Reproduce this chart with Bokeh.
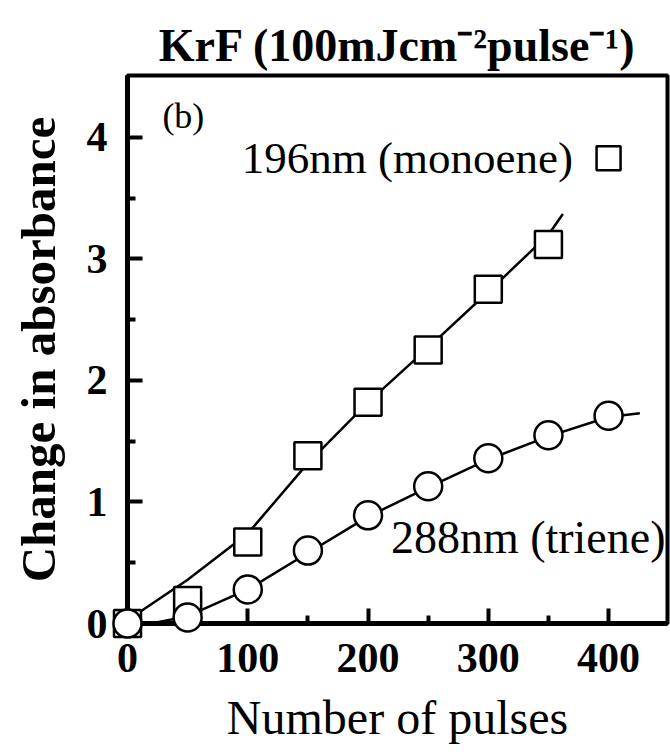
from bokeh.plotting import figure
from bokeh.models import FixedTicker, Range1d
from bokeh.embed import file_html
from bokeh.resources import INLINE
from bokeh.core.properties import value

# Data
pulses_mono = [0, 50, 100, 150, 200, 250, 300, 350]
abs_mono = [0.0, 0.19, 0.67, 1.38, 1.82, 2.25, 2.75, 3.12]
pulses_tri = [0, 50, 100, 150, 200, 250, 300, 350, 400]
abs_tri = [0.0, 0.05, 0.28, 0.60, 0.89, 1.13, 1.36, 1.55, 1.71]

# Drawn guide curves
fit_mono_x = [8, 50, 100, 150, 200, 250, 300, 350, 362]
fit_mono_y = [0.08, 0.36, 0.74, 1.32, 1.82, 2.27, 2.73, 3.2, 3.37]
fit_tri_x = [20, 50, 100, 150, 200, 250, 300, 350, 400, 426]
fit_tri_y = [0.0, 0.06, 0.28, 0.58, 0.88, 1.12, 1.35, 1.54, 1.70, 1.73]

x_ticks = [0, 100, 200, 300, 400]
x_minor = [50, 150, 250, 350]
y_ticks = [0, 1, 2, 3, 4]
y_minor = [0.5, 1.5, 2.5, 3.5]

FONT = "Liberation Serif"

p = figure(width=670, height=755, x_range=Range1d(0, 449), y_range=Range1d(0, 4.51),
           output_backend="svg", toolbar_location=None,
           min_border_left=127, min_border_right=3, min_border_top=75, min_border_bottom=132,
           title="KrF (100mJcm\u207b\u00b2pulse\u207b\u00b9)")
p.title.text_font = FONT
p.title.text_font_size = "46px"
p.title.text_font_style = "bold"
p.title.align = "center"
p.title.text_color = "black"
p.title.offset = 0
p.title.standoff = 10

p.grid.visible = False
p.outline_line_color = "black"
p.outline_line_width = 4
p.outline_line_alpha = 1.0

for ax in (p.xaxis[0], p.yaxis[0]):
    ax.axis_line_width = 5
    ax.axis_line_color = "black"
    ax.major_tick_in = 15
    ax.major_tick_out = 0
    ax.minor_tick_in = 8
    ax.minor_tick_out = 0
    ax.major_tick_line_width = 4
    ax.minor_tick_line_width = 4
    ax.major_tick_line_color = "black"
    ax.minor_tick_line_color = "black"
    ax.major_label_text_font = FONT
    ax.major_label_text_font_size = "42px"
    ax.major_label_text_font_style = "bold"
    ax.major_label_text_color = "black"
    ax.axis_label_text_font = FONT
    ax.axis_label_text_color = "black"

p.xaxis.ticker = FixedTicker(ticks=x_ticks, minor_ticks=x_minor)
p.yaxis.ticker = FixedTicker(ticks=y_ticks, minor_ticks=y_minor)
p.xaxis.major_label_standoff = 20
p.yaxis.major_label_standoff = 20

p.xaxis.axis_label = "Number of pulses"
p.xaxis.axis_label_text_font_size = "48px"
p.xaxis.axis_label_text_font_style = "normal"
p.xaxis.axis_label_standoff = 16
p.yaxis.axis_label = "Change in absorbance"
p.yaxis.axis_label_text_font_size = "49px"
p.yaxis.axis_label_text_font_style = "bold"
p.yaxis.axis_label_standoff = 18

# Curves
p.line(fit_mono_x, fit_mono_y, line_color="black", line_width=2.5)
p.line(fit_tri_x, fit_tri_y, line_color="black", line_width=2.5)

# Markers
r1 = p.scatter(pulses_mono, abs_mono, marker="square", size=27, fill_color="white",
               line_color="black", line_width=2.5)
r2 = p.scatter(pulses_tri, abs_tri, marker="circle", size=28, fill_color="white",
               line_color="black", line_width=2.5)
r1.level = "overlay"
r2.level = "overlay"

# Annotations
p.text(x=[95], y=[3.83], text=["196nm (monoene)"], text_font=value(FONT),
       text_font_size="45px", text_baseline="middle", text_align="left", text_color="black")
p.scatter(x=[400], y=[3.83], marker="square", size=24, fill_color="white",
          line_color="black", line_width=2.5)
p.text(x=[219], y=[0.71], text=["288nm (triene)"], text_font=value(FONT),
       text_font_size="46px", text_baseline="middle", text_align="left", text_color="black")
p.text(x=[29], y=[4.18], text=["(b)"], text_font=value(FONT),
       text_font_size="36px", text_baseline="middle", text_align="left", text_color="black")

open("out.html", "w").write(file_html(p, INLINE))
